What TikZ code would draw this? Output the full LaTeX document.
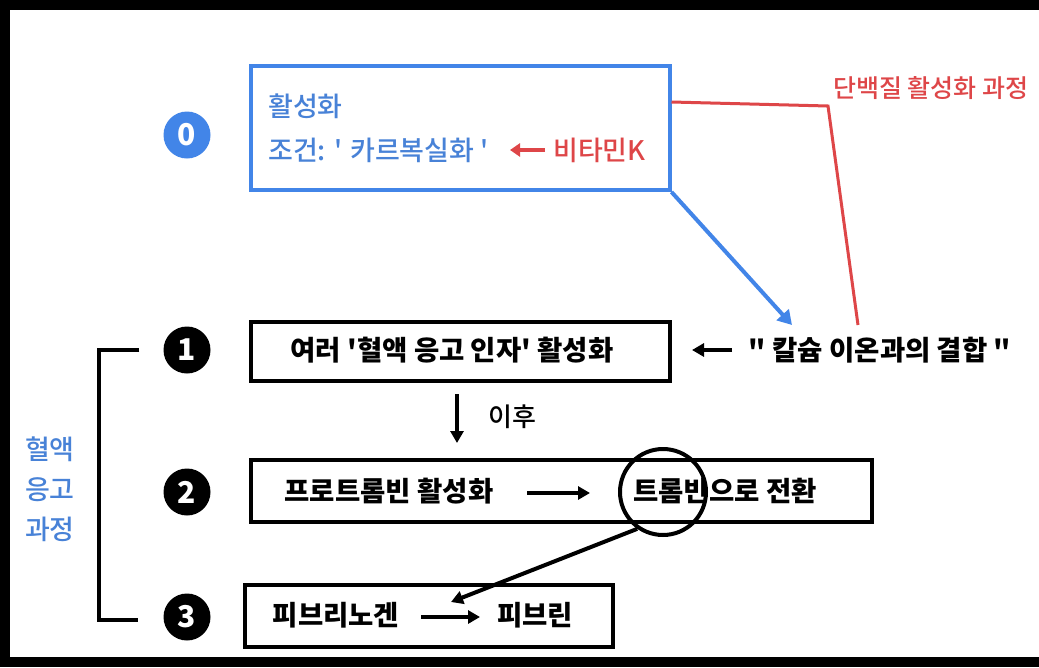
\documentclass[tikz,border=0pt]{standalone}
\usepackage{fontspec}
\setmainfont{Noto Sans CJK KR}
\newfontfamily\heavyfont{Noto Sans CJK KR Black}
\newfontfamily\medfont{Noto Sans CJK KR Medium}
\usetikzlibrary{arrows.meta,calc,shapes.geometric}
\definecolor{cblue}{RGB}{66,133,232}
\definecolor{cbluetext}{RGB}{72,130,215}
\definecolor{cred}{RGB}{222,70,72}
\begin{document}
\begin{tikzpicture}[x=1pt,y=-1pt,
  box/.style={draw=black,line width=4pt,inner sep=0pt},
  bluebox/.style={draw=cblue,line width=4pt,inner sep=0pt},
  num/.style={circle,fill=black,text=white,inner sep=0pt,minimum size=47pt,font=\heavyfont\fontsize{30}{30}\selectfont},
  bnum/.style={num,fill=cblue},
  btxt/.style={inner sep=0pt,font=\heavyfont\fontsize{27.5}{27.5}\selectfont},
  bluetxt/.style={inner sep=0pt,text=cbluetext,font=\medfont\fontsize{27}{27}\selectfont},
  redtxt/.style={inner sep=0pt,text=cred,font=\medfont\fontsize{27}{27}\selectfont},
  blk/.style={line width=4pt,-{Triangle[length=12pt,width=13pt]}},
  conn/.style={line width=4pt},
]
\useasboundingbox (0,0) rectangle (1039,667);
\fill[black] (0,0) rectangle (1039,667);
\fill[white] (10,10) rectangle (1050,657);

% boxes
\node[bluebox,minimum width=419pt,minimum height=124pt] (b0) at (460,128) {};
\node[box,minimum width=419pt,minimum height=59pt] (b1) at (460,351) {};
\node[box,minimum width=621pt,minimum height=62pt] (b2) at (561,491) {};
\node[box,minimum width=368pt,minimum height=62pt] (b3) at (429,616) {};

% numbers
\node[bnum] (n0) at (187,135) {0};
\node[num] (n1) at (187,350) {1};
\node[num] (n2) at (187,492) {2};
\node[num] (n3) at (187,617) {3};

% box 0 contents
\node[bluetxt,anchor=west] (t0a) at (268,106) {활성화};
\node[bluetxt,anchor=west] (t0b) at (268,150) {조건: ' 카르복실화 '};
\node[redtxt,anchor=west] (vk) at (553,150) {비타민K};
\coordinate (ra1) at (545,150);
\coordinate (ra2) at (510,150);
\draw[cred,line width=4pt,-{Triangle[length=10pt,width=13pt]}] (ra1) -- (ra2);

% red title and line
\node[redtxt,anchor=west,font=\medfont\fontsize{25}{25}\selectfont] (rt) at (833,88) {단백질 활성화 과정};
\coordinate (r1) at (828,106);
\coordinate (r2) at (858,325);
\draw[cred,line width=3pt] (b0.east |- 0,102) -- (r1) -- (r2);

% calcium text
\node[btxt] (ca) at (880,350) {" 칼슘 이온과의 결합 "};
\draw[cblue,line width=4pt,-{Triangle[length=14pt,width=16pt]}] (b0.south east) -- (792,325);
\coordinate (ca1) at (732,350);
\coordinate (ca2) at (692,350);
\draw[blk] (ca1) -- (ca2);

% box 1
\node[btxt] (t1) at (452,350) {여러 '혈액 응고 인자' 활성화};
\draw[blk] (457,394) -- (457,443);
\node[inner sep=0pt,font=\medfont\fontsize{26}{26}\selectfont] (after) at (512,417) {이후};

% box 2
\node[btxt] (t2a) at (389,491) {프로트롬빈 활성화};
\node[btxt] (t2b) at (725,491) {트롬빈으로 전환};
\draw[blk] (527,493) -- (590,493);
\node[draw=black,line width=4pt,ellipse,minimum width=86pt,minimum height=86pt,inner sep=0pt] (circ) at (663,492) {};
\coordinate (dtip) at (451,602);
\draw[blk] (circ.-125) -- (dtip);

% box 3
\node[btxt] (t3a) at (336,615) {피브리노겐};
\node[btxt] (t3b) at (535,615) {피브린};
\draw[blk] (421,617) -- (480,617);

% bracket
\draw[conn] (n1.west) ++(-24,0) -- (99,350) -- (99,620) -- (138,620);

% blue side label
\node[bluetxt,align=center] (side) at (50,489) {혈액\\[13pt]응고\\[13pt]과정};
\end{tikzpicture}
\end{document}
